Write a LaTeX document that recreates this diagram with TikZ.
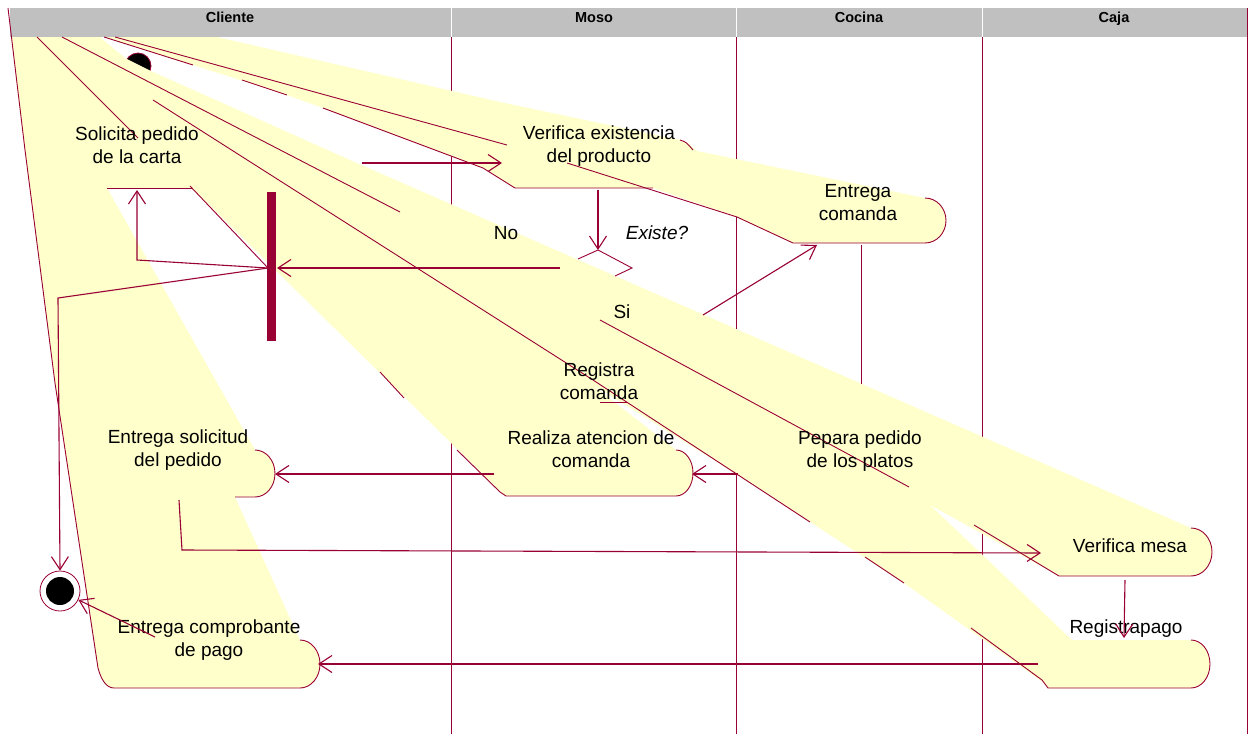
\documentclass[tikz,border=0pt]{standalone}
\usepackage{fontspec}
\setmainfont{Liberation Sans}
\usetikzlibrary{arrows.meta}

\definecolor{rosered}{RGB}{153,0,51}
\definecolor{stateyellow}{RGB}{255,255,204}
\definecolor{headgray}{RGB}{192,192,192}

\begin{document}
\begin{tikzpicture}[x=1pt,y=-1pt,>={Straight Barb[length=13pt,width=17pt]},
  lane/.style={draw=rosered,line width=0.8pt},
  outline/.style={draw=rosered,line width=0.9pt},
  flow/.style={draw=rosered,line width=1.1pt,->},
  activity/.style={font=\fontsize{19}{23}\selectfont,align=center,inner sep=0pt},
  guard/.style={font=\fontsize{19}{23}\selectfont,inner sep=0pt},
  swimtitle/.style={font=\fontsize{14.5}{16}\selectfont\bfseries,inner sep=0pt,anchor=base}]

\useasboundingbox (0,0) rectangle (1251,734);

%swimlane borders
\draw[lane] (451,37) -- (451,734);
\draw[lane] (736,37) -- (736,734);
\draw[lane] (982,37) -- (982,734);

%initial state
\filldraw[fill=black,draw=rosered,line width=0.8pt] (138,66) circle (13);

%activity shapes, all pulled to the upper left corner
\fill[stateyellow] (11,37) -- (25,150) -- (55,383) -- (98,668)
  .. controls (101,679) and (106,688) .. (114,688) -- (300,688)
  arc[start angle=90,end angle=-90,x radius=20,y radius=24] -- (235,497) -- (255,497)
  arc[start angle=90,end angle=-90,x radius=20,y radius=23.5] -- (107,188) -- (192,188)
  -- (505,496) -- (676,496)
  arc[start angle=90,end angle=-90,x radius=17,y radius=23] -- (590,383)
  -- (738,475) -- (810,522) -- (904,583) -- (1044,683) -- (1048,688) -- (1191,688)
  arc[start angle=90,end angle=-90,x radius=19,y radius=24] -- (1072,640)
  -- (930,505) -- (1059,576) -- (1191,576)
  arc[start angle=90,end angle=-90,x radius=21,y radius=24] -- (350,160)
  -- (151,71) -- (125,58) -- (100,37) -- (104,37) -- (193,65) -- (287,95) -- (323,108)
  -- (483,168) -- (515,188) -- (653,188) -- (737,217) -- (793,243) -- (925,243)
  arc[start angle=90,end angle=-90,x radius=21,y radius=22.5] -- (697,151)
  -- (688,143) -- (680,140) -- (500,102) -- (217,37) -- cycle;

%header
\fill[headgray] (10,8) rectangle (1247,37);
\draw[white,line width=0.8pt] (451,8) -- (451,37) (736,8) -- (736,37) (982,8) -- (982,37);
\node[swimtitle] (cliente) at (230,22) {Cliente};
\node[swimtitle] (moso) at (594,22) {Moso};
\node[swimtitle] (cocina) at (859,22) {Cocina};
\node[swimtitle] (caja) at (1114,22) {Caja};
\draw[lane] (1247,8) -- (1247,734);

%outlines left of the shapes
\draw[outline] (8,8) -- (25,150) -- (55,383) -- (98,668)
  .. controls (101,679) and (106,688) .. (114,688) -- (300,688)
  arc[start angle=90,end angle=-90,x radius=20,y radius=24];
\draw[outline] (37,37) -- (138,138);
\draw[outline] (190,186) -- (268,268);
\draw[outline] (380,372) -- (404,398);
\draw[outline] (457,450) -- (500,492) -- (506,496) -- (676,496)
  arc[start angle=90,end angle=-90,x radius=17,y radius=23];
\draw[outline] (62,37) -- (400,212);
\draw[outline] (600,320) -- (909,487);
\draw[outline] (974,525) -- (1059,576) -- (1191,576)
  arc[start angle=90,end angle=-90,x radius=21,y radius=24];
\draw[outline] (153,100) -- (593,380) -- (810,522);
\draw[outline] (865,557) -- (904,583);
\draw[outline] (971,628) -- (1042,680) -- (1048,688) -- (1191,688)
  arc[start angle=90,end angle=-90,x radius=19,y radius=24];
\draw[outline] (104,37) -- (193,65);
\draw[outline] (242,80) -- (287,95);
\draw[outline] (323,108) -- (483,168) -- (515,188) -- (653,188);
\draw[outline] (115,37) -- (507,145);
\draw[outline] (567,163) -- (737,217) -- (793,243) -- (925,243)
  arc[start angle=90,end angle=-90,x radius=21,y radius=22.5];
\draw[outline] (680,140) .. controls (686,142) .. (693,150);
\draw[outline] (107,188) -- (192,188);
\draw[outline] (235,497) -- (255,497)
  arc[start angle=90,end angle=-90,x radius=20,y radius=23.5];
\draw[outline] (600,402) -- (627,402);

%decision
\draw[outline] (578,259) -- (598,250) -- (632,268) -- (615,276);

%synchronization bar
\node[fill=rosered,minimum width=9pt,minimum height=149pt,inner sep=0pt] (bar) at (271.5,266.5) {};

%final state
\node[circle,draw=rosered,line width=0.8pt,minimum size=40pt,inner sep=0pt] (final) at (60,591) {};
\fill[black] (final) circle (14);

%activity texts
\node[activity] (solicita) at (137,145) {Solicita pedido\\de la carta};
\node[activity] (verifica) at (599,146) {Verifica existencia\\del producto};
\node[activity] (entregacom) at (858,203) {Entrega\\comanda};
\node[activity] (registracom) at (599,381) {Registra\\comanda};
\node[activity] (entregasol) at (178,450) {Entrega solicitud\\del pedido};
\node[activity] (realiza) at (591,449) {Realiza atencion de\\comanda};
\node[activity] (pepara) at (860,451) {Pepara pedido\\de los platos};
\node[activity] (vmesa) at (1130,546) {Verifica mesa};
\node[activity] (rpago) at (1126,629) {Registrapago};
\node[activity] (comprob) at (209,640) {Entrega comprobante\\de pago};
\node[guard] (existe) at (657,233) {\itshape Existe?};
\node[guard] (no) at (506,233) {No};
\node[guard] (si) at (622,312) {Si};

%connector ends
\coordinate (sol-e) at (362,163);
\coordinate (ver-w) at (502,163);
\coordinate (ver-s) at (598,190);
\coordinate (dec-n) at (598,250);
\coordinate (dec-w) at (560,268);
\coordinate (dec-e) at (703,315);
\coordinate (ec-sw) at (817,245);
\coordinate (ec-s) at (861,245);
\coordinate (pep-n) at (861,384);
\coordinate (bar-e) at (277,268);
\coordinate (bar-w) at (268,268);
\coordinate (sol-s) at (137,190);
\coordinate (pep-w) at (738,474);
\coordinate (rea-e) at (692,474);
\coordinate (rea-w) at (494,474);
\coordinate (esol-e) at (275,474);
\coordinate (esol-s) at (179,500);
\coordinate (vm-w) at (1041,553);
\coordinate (vm-s) at (1125,580);
\coordinate (rp-n) at (1124,638);
\coordinate (rp-w) at (1038,664);
\coordinate (cmp-e) at (318,664);
\coordinate (cmp-n) at (155,637);

%transitions
\draw[flow] (sol-e) -- (ver-w);
\draw[flow] (ver-s) -- (dec-n);
\draw[flow] (dec-w) -- (bar-e);
\draw[flow] (dec-e) -- (ec-sw);
\draw[outline] (ec-s) -- (pep-n);
\draw[flow] (bar-w) -- (137,260) -- (sol-s);
\draw[flow] (bar-w) -- (58,298) -- (final.north);
\draw[flow] (pep-w) -- (rea-e);
\draw[flow] (rea-w) -- (esol-e);
\draw[flow] (esol-s) -- (182,550) -- (vm-w);
\draw[flow] (vm-s) -- (rp-n);
\draw[flow] (rp-w) -- (cmp-e);
\draw[flow] (cmp-n) -- (final);

\end{tikzpicture}
\end{document}
